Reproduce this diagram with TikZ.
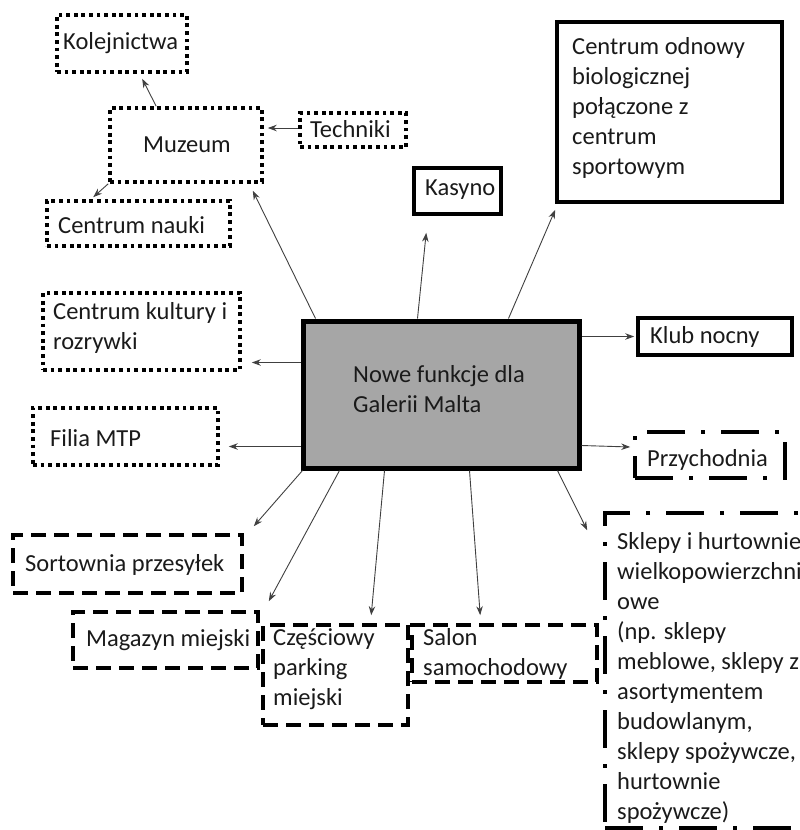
\documentclass[tikz,border=0pt]{standalone}
\usepackage{fontspec}
\setmainfont{Carlito}
\usetikzlibrary{arrows.meta,fit,calc}
\definecolor{mygray}{HTML}{A6A6A6}
\definecolor{arrowgray}{HTML}{404040}
\definecolor{txtcol}{HTML}{1A1A1A}
\tikzset{
  box/.style={inner sep=0pt, line width=3.6pt, draw=black},
  solidbox/.style={box},
  dotbox/.style={box, dash pattern=on 3.8pt off 3.8pt},
  dashbox/.style={box, dash pattern=on 15pt off 8pt},
  dashdotbox/.style={box, dash pattern=on 38pt off 16pt on 4pt off 16pt},
  mainbox/.style={inner sep=0pt, line width=5pt, draw=black, fill=mygray},
  txt/.style={font=\fontsize{24.5}{30}\selectfont, inner sep=0pt, align=left, anchor=west, text=txtcol},
  arr/.style={draw=arrowgray, line width=0.9pt, -{Stealth[length=9pt,width=6.5pt]}},
}
\begin{document}
\begin{tikzpicture}[x=1pt,y=-1pt]
\useasboundingbox (0,0) rectangle (800,830);
% boxes
\node[mainbox, fit={(303,321)(579,468)}] (main) {};
\node[dotbox, fit={(57,15)(187,72)}] (kol) {};
\node[dotbox, fit={(110,108)(262,182)}] (muz) {};
\node[dotbox, fit={(300,113)(406,147)}] (tech) {};
\node[dotbox, fit={(47,201)(230,246)}] (nauki) {};
\node[dotbox, fit={(43,293)(240,370)}] (kult) {};
\node[dotbox, fit={(33,408)(218,465)}] (filia) {};
\node[solidbox, fit={(414,168)(501,214)}] (kas) {};
\node[solidbox, fit={(557,22)(782,202)}] (odn) {};
\node[solidbox, fit={(638,318)(792,355)}] (klub) {};
\node[dashdotbox, fit={(635,432)(785,478)}] (prz) {};
\node[dashdotbox, fit={(605,513)(830,828)}] (skl) {};
\node[dashbox, fit={(13,535)(242,593)}] (sort) {};
\node[dashbox, fit={(73,612)(258,668)}] (mag) {};
\node[dashbox, fit={(263,625)(408,725)}] (park) {};
\node[dashbox, fit={(412,625)(597,682)}] (sal) {};
% texts
\node[txt] (mainT) at (353,389) {Nowe funkcje dla\\Galerii Malta};
\node[txt] (kolT) at (63,43) {Kolejnictwa};
\node[txt, anchor=center] (muzT) at (187,145) {Muzeum};
\node[txt] (techT) at (310,129) {Techniki};
\node[txt] (naukiT) at (58,225) {Centrum nauki};
\node[txt] (kultT) at (53,328) {Centrum kultury i\\rozrywki};
\node[txt] (filiaT) at (50,438) {Filia MTP};
\node[txt] (kasT) at (425,190) {Kasyno};
\node[txt] (odnT) at (572,108) {Centrum odnowy\\biologicznej\\połączone z\\centrum\\sportowym};
\node[txt] (klubT) at (650,337) {Klub nocny};
\node[txt] (przT) at (647,460) {Przychodnia};
\node[txt] (sklT) at (617,678) {Sklepy i hurtownie\\wielkopowierzchni\\owe\\(np. sklepy\\meblowe, sklepy z\\asortymentem\\budowlanym,\\sklepy spożywcze,\\hurtownie\\spożywcze)};
\node[txt] (sortT) at (25,565) {Sortownia przesyłek};
\node[txt] (magT) at (86,640) {Magazyn miejski};
\node[txt] (parkT) at (273,669) {Częściowy\\parking\\miejski};
\node[txt] (salT) at (423,654) {Salon\\samochodowy};
% connectors
\draw[arr] ([xshift=15pt]main.north west) -- ([xshift=-11pt,yshift=-7pt]muz.south east);
\draw[arr] ([xshift=48pt]muz.north west) -- ([xshift=87pt,yshift=-5pt]kol.south west);
\draw[arr] ([yshift=2pt]tech.west) -- ([xshift=4pt,yshift=2pt]tech.west -| muz.east);
\draw[arr] (muz.south west) -- ([xshift=48pt,yshift=2pt]nauki.north west);
\draw[arr] ([xshift=117pt]main.north west) -- ([xshift=14pt,yshift=-17pt]kas.south west);
\draw[arr] ([xshift=208pt]main.north west) -- ([yshift=-6pt]odn.south west);
\draw[arr] (main.east |- klub.west) -- ([xshift=-2pt]klub.west);
\draw[arr] ([yshift=-31pt]kult.east -| main.west) -- ([xshift=10pt,yshift=-31pt]kult.east);
\draw[arr] ([yshift=-10pt]filia.east -| main.west) -- ([xshift=9pt,yshift=-10pt]filia.east);
\draw[arr] ([yshift=25pt]main.south east) -- ([xshift=-3pt,yshift=8pt]prz.west);
\draw[arr] ([xshift=-24pt]main.south east) -- ([xshift=-16pt,yshift=-19pt]skl.north west);
\draw[arr] ([xshift=2pt]main.south west) -- ([xshift=10pt,yshift=7pt]sort.north east);
\draw[arr] ([xshift=39pt]main.south west) -- ([xshift=9pt,yshift=9pt]mag.north east);
\draw[arr] ([xshift=84pt]main.south west) -- ([xshift=110pt,yshift=8pt]park.north west);
\draw[arr] ([xshift=169pt]main.south west) -- ([xshift=70pt,yshift=8pt]sal.north west);
\end{tikzpicture}
\end{document}
